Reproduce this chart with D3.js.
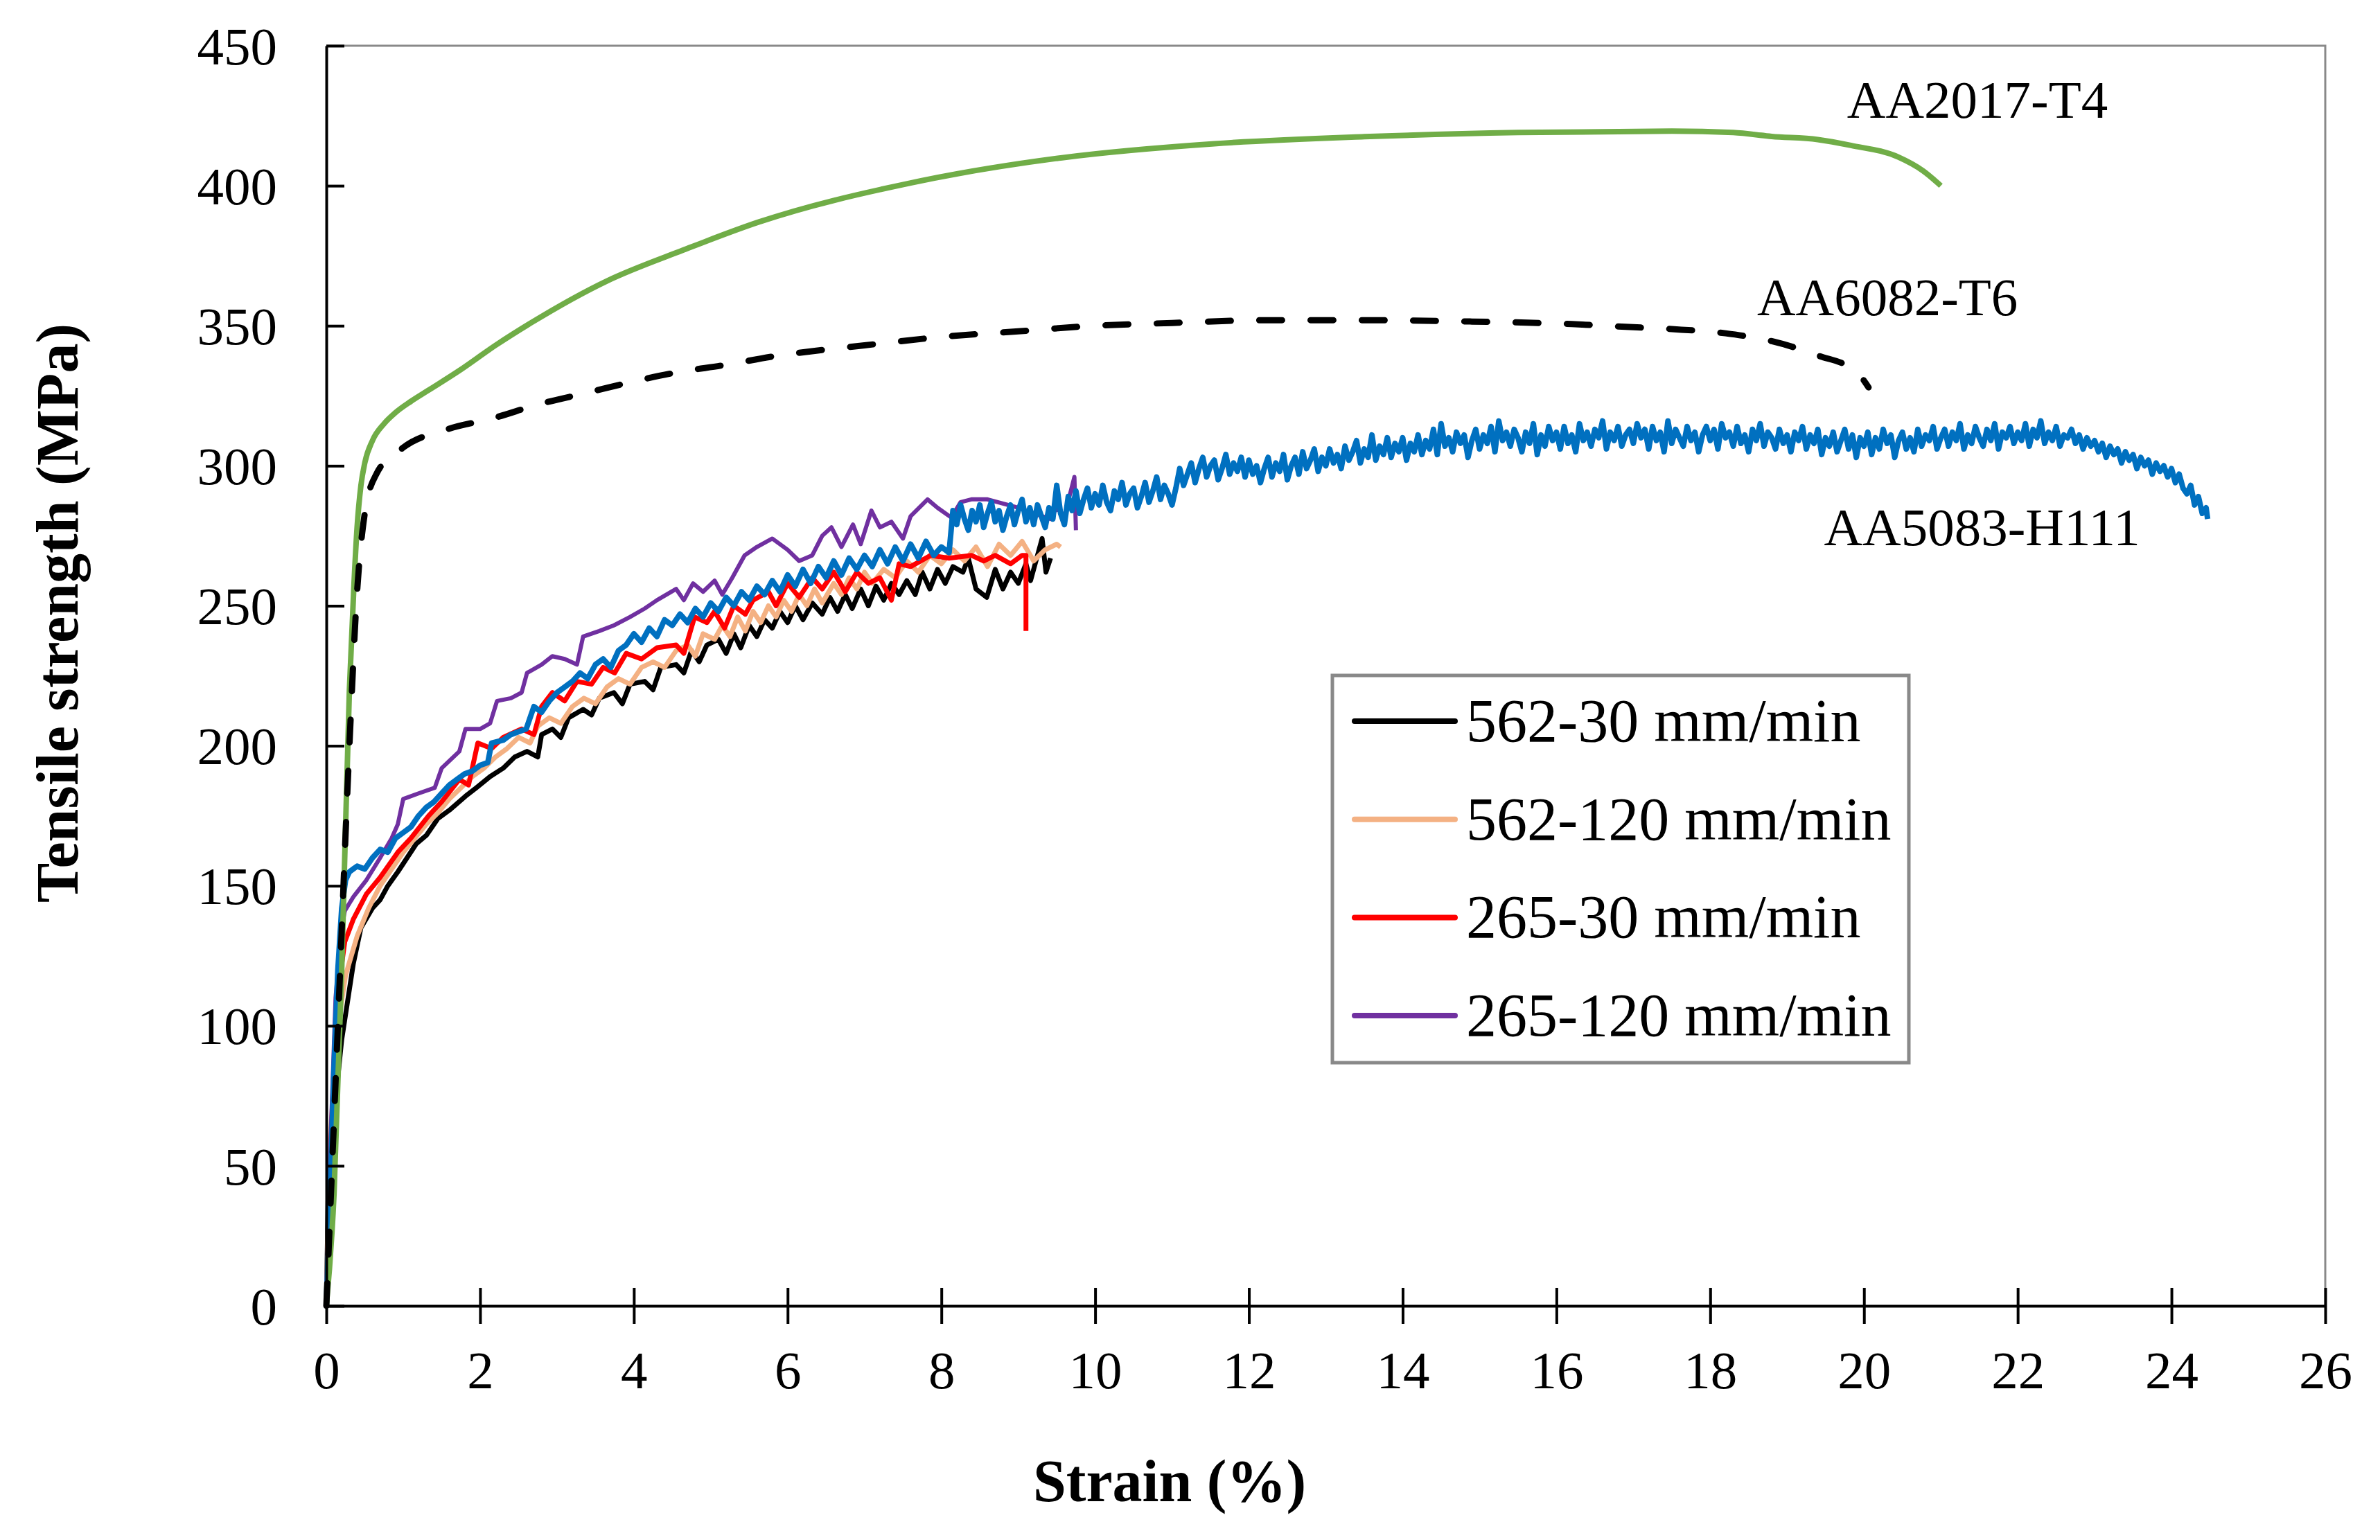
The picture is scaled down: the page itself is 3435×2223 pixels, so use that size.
<!DOCTYPE html>
<html>
<head>
<meta charset="utf-8">
<script src="https://cdn.jsdelivr.net/npm/d3@7"></script>
<style>
  html, body { margin: 0; padding: 0; background: #fff; }
  svg { display: block; font-family: "Liberation Serif", "Times New Roman", serif; }
</style>
</head>
<body>
<svg id="chart" width="3435" height="2223"></svg>
<script>
// ---------------- DATA ----------------
const xTicks = [0, 2, 4, 6, 8, 10, 12, 14, 16, 18, 20, 22, 24, 26];
const yTicks = [0, 50, 100, 150, 200, 250, 300, 350, 400, 450];

const legendNames = ["562-30 mm/min", "562-120 mm/min", "265-30 mm/min", "265-120 mm/min"];
const materialNames = ["AA2017-T4", "AA6082-T6", "AA5083-H111"];

// [strain %, stress MPa]
const s562_30 = [[0,0],[0.03,50],[0.2,95],[0.35,122],[0.45,135],[0.6,142],[0.7,145],[0.8,150],[0.93,155],[1.05,160],[1.17,165],[1.3,168],[1.45,174],[1.6,177],[1.81,182],[1.95,185],[2.13,189],[2.3,192],[2.45,196],[2.61,198],[2.75,196],[2.8,204],[2.94,206],[3.05,203],[3.15,210],[3.34,213],[3.45,211],[3.55,217],[3.74,219],[3.85,215],[3.95,222],[4.14,223],[4.25,220],[4.35,228],[4.55,229],[4.65,226],[4.75,234],[4.85,230],[4.95,236],[5.1,238],[5.2,233],[5.3,240],[5.39,235],[5.5,243],[5.6,239],[5.7,245],[5.8,242],[5.9,248],[6.0,244],[6.1,250],[6.2,245],[6.32,251],[6.45,247],[6.55,253],[6.65,248],[6.75,254],[6.84,249],[6.95,256],[7.05,250],[7.15,257],[7.25,252],[7.35,258],[7.45,254],[7.55,259],[7.66,254],[7.75,262],[7.85,256],[7.95,263],[8.05,258],[8.15,264],[8.28,262],[8.35,267],[8.45,256],[8.59,253],[8.7,263],[8.8,256],[8.9,262],[9.0,258],[9.1,265],[9.16,259],[9.25,268],[9.31,274],[9.36,262],[9.42,267]];

const s562_120 = [[0,0],[0.05,60],[0.15,100],[0.25,118],[0.4,132],[0.55,142],[0.7,150],[0.85,156],[1.0,162],[1.15,167],[1.3,172],[1.45,176],[1.6,181],[1.75,185],[1.9,189],[2.05,192],[2.2,196],[2.35,199],[2.5,203],[2.65,201],[2.75,207],[2.9,210],[3.05,208],[3.2,214],[3.35,217],[3.5,215],[3.65,221],[3.8,224],[3.95,222],[4.1,228],[4.25,230],[4.4,228],[4.55,234],[4.7,236],[4.8,232],[4.9,240],[5.05,238],[5.15,243],[5.25,239],[5.35,246],[5.45,241],[5.55,248],[5.65,244],[5.75,250],[5.85,246],[5.95,252],[6.05,248],[6.15,254],[6.25,250],[6.35,256],[6.45,251],[6.6,258],[6.7,254],[6.8,260],[6.9,256],[7.0,262],[7.1,258],[7.25,263],[7.4,260],[7.55,266],[7.7,262],[7.85,268],[8.0,265],[8.15,270],[8.3,266],[8.45,271],[8.6,264],[8.75,272],[8.9,268],[9.05,273],[9.2,266],[9.35,270],[9.5,272],[9.55,271]];

const s265_30 = [[0,0],[0.05,50],[0.12,100],[0.2,122],[0.24,130],[0.35,138],[0.52,147],[0.7,153],[0.93,162],[1.1,167],[1.33,175],[1.5,180],[1.73,188],[1.85,186],[1.97,201],[2.15,199],[2.3,203],[2.54,206],[2.7,204],[2.8,214],[2.94,219],[3.1,216],[3.26,223],[3.45,222],[3.6,228],[3.75,226],[3.9,233],[4.1,231],[4.3,235],[4.55,236],[4.65,233],[4.79,246],[4.95,244],[5.05,248],[5.18,242],[5.3,250],[5.45,247],[5.55,252],[5.75,255],[5.85,250],[6.0,258],[6.15,253],[6.32,260],[6.45,256],[6.6,262],[6.75,255],[6.9,262],[7.05,258],[7.2,260],[7.35,252],[7.45,265],[7.6,264],[7.86,268],[8.1,267],[8.39,268],[8.55,266],[8.7,268],[8.9,265],[9.05,268],[9.1,268],[9.1,241]];

const s265_120 = [[0,0],[0.05,55],[0.12,110],[0.2,135],[0.24,141],[0.35,146],[0.52,152],[0.7,160],[0.85,167],[0.93,172],[1.0,181],[1.2,183],[1.41,185],[1.5,192],[1.73,198],[1.81,206],[2.0,206],[2.13,208],[2.22,216],[2.4,217],[2.54,219],[2.61,226],[2.8,229],[2.94,232],[3.1,231],[3.26,229],[3.34,239],[3.55,241],[3.74,243],[3.95,246],[4.14,249],[4.3,252],[4.55,256],[4.65,252],[4.77,258],[4.9,255],[5.05,259],[5.15,254],[5.28,260],[5.44,268],[5.6,271],[5.8,274],[6.0,270],[6.15,266],[6.32,268],[6.45,275],[6.57,278],[6.7,271],[6.85,279],[6.95,272],[7.09,284],[7.2,278],[7.35,280],[7.5,274],[7.6,282],[7.82,288],[7.95,285],[8.13,281.5],[8.25,287],[8.39,288],[8.6,288],[8.8,286.5],[9.0,285],[9.2,283],[9.42,281],[9.5,285],[9.6,282],[9.73,296],[9.75,277]];

const aa5083 = [[0,0],[0.05,40],[0.1,85],[0.15,120],[0.2,142],[0.25,152],[0.3,155],[0.4,157],[0.5,156],[0.6,160],[0.7,163],[0.8,162],[0.9,167],[1.0,169],[1.1,171],[1.2,175],[1.3,178],[1.4,180],[1.5,183],[1.6,186],[1.7,188],[1.8,190],[1.9,191],[2.0,193],[2.1,194],[2.15,201],[2.3,202],[2.4,204],[2.5,205],[2.6,206],[2.7,214],[2.8,212],[2.9,216],[3.0,219],[3.1,221],[3.2,223],[3.3,226],[3.4,224],[3.5,229],[3.6,231],[3.7,228],[3.8,234],[3.9,236],[4.0,240],[4.1,237],[4.2,242],[4.3,239],[4.4,245],[4.5,243],[4.6,247],[4.7,244],[4.8,249],[4.9,246],[5.0,251],[5.1,248],[5.2,253],[5.3,250],[5.4,255],[5.5,252],[5.6,257],[5.7,254],[5.8,259],[5.9,255],[6.0,261],[6.1,257],[6.2,263],[6.3,258],[6.4,264],[6.5,260],[6.6,266],[6.7,261],[6.8,267],[6.9,263],[7.0,268],[7.1,264],[7.2,270],[7.3,265],[7.4,271],[7.5,266],[7.6,272],[7.7,267],[7.8,273],[7.9,268],[8.0,271],
[8.10,269],[8.15,284],[8.20,279],[8.25,286],[8.30,281],[8.35,277],[8.40,284],[8.45,280],[8.50,286],[8.55,278],[8.60,283],[8.65,287],[8.70,280],[8.75,284],[8.80,277],[8.85,282],[8.90,286],[8.95,279],
[9.00,284],[9.05,288],[9.10,280],[9.15,285],[9.20,279],[9.25,286],[9.30,282],[9.35,278],[9.40,285],[9.45,281],[9.50,293],[9.55,283],[9.60,279],[9.65,289],[9.70,284],[9.75,291],[9.80,283],[9.85,288],[9.90,292],[9.95,285],
[10.00,290],[10.05,286],[10.10,293],[10.15,287],[10.20,284],[10.25,291],[10.30,288],[10.35,294],[10.40,286],[10.45,290],[10.50,292],[10.55,285],[10.60,289],[10.65,294],[10.70,287],[10.75,291],[10.80,296],[10.85,288],[10.90,293],[10.95,290],
[11.00,286],[11.05,292],[11.10,299],[11.15,293],[11.20,297],[11.25,301],[11.30,294],[11.35,299],[11.40,303],[11.45,296],[11.50,300],[11.55,302],[11.60,295],[11.65,299],[11.70,304],[11.75,297],[11.80,301],[11.85,298],[11.90,303],[11.95,296],
[12.00,302],[12.05,297],[12.10,300],[12.15,294],[12.20,299],[12.25,303],[12.30,296],[12.35,301],[12.40,298],[12.45,304],[12.50,295],[12.55,300],[12.60,303],[12.65,297],[12.70,305],[12.75,299],[12.80,302],[12.85,306],[12.90,298],[12.95,303],
[13.00,300],[13.05,306],[13.10,301],[13.15,304],[13.20,299],[13.25,307],[13.30,302],[13.35,305],[13.40,309],[13.45,301],[13.50,306],[13.55,303],[13.60,311],[13.65,302],[13.70,307],[13.75,304],[13.80,310],[13.85,303],[13.90,308],[13.95,305],
[14.00,310],[14.05,302],[14.10,308],[14.15,305],[14.20,311],[14.25,304],[14.30,309],[14.35,306],[14.40,313],[14.45,304],[14.50,315],[14.55,307],[14.60,310],[14.65,305],[14.70,312],[14.75,308],[14.80,311],[14.85,303],[14.90,309],[14.95,313],
[15.00,306],[15.05,311],[15.10,308],[15.15,314],[15.20,305],[15.25,316],[15.30,309],[15.35,312],[15.40,307],[15.45,313],[15.50,310],[15.55,305],[15.60,312],[15.65,308],[15.70,315],[15.75,304],[15.80,311],[15.85,307],[15.90,314],[15.95,309],
[16.00,312],[16.05,306],[16.10,314],[16.15,308],[16.20,311],[16.25,305],[16.30,315],[16.35,309],[16.40,312],[16.45,307],[16.50,313],[16.55,310],[16.60,316],[16.65,306],[16.70,312],[16.75,309],[16.80,314],[16.85,307],[16.90,311],[16.95,313],
[17.00,308],[17.05,315],[17.10,310],[17.15,313],[17.20,306],[17.25,314],[17.30,309],[17.35,312],[17.40,305],[17.45,316],[17.50,308],[17.55,313],[17.60,310],[17.65,307],[17.70,314],[17.75,309],[17.80,312],[17.85,305],[17.90,311],[17.95,314],
[18.00,309],[18.05,313],[18.10,306],[18.15,315],[18.20,310],[18.25,312],[18.30,307],[18.35,314],[18.40,308],[18.45,311],[18.50,305],[18.55,313],[18.60,309],[18.65,315],[18.70,307],[18.75,312],[18.80,310],[18.85,306],[18.90,313],[18.95,308],
[19.00,311],[19.05,305],[19.10,312],[19.15,309],[19.20,314],[19.25,306],[19.30,311],[19.35,308],[19.40,313],[19.45,304],[19.50,310],[19.55,307],[19.60,312],[19.65,305],[19.70,309],[19.75,313],[19.80,306],[19.85,311],[19.90,303],[19.95,310],
[20.00,307],[20.05,312],[20.10,304],[20.15,310],[20.20,306],[20.25,313],[20.30,308],[20.35,311],[20.40,303],[20.45,309],[20.50,312],[20.55,306],[20.60,310],[20.65,305],[20.70,313],[20.75,307],[20.80,311],[20.85,309],[20.90,314],[20.95,306],
[21.00,310],[21.05,313],[21.10,307],[21.15,312],[21.20,309],[21.25,315],[21.30,306],[21.35,311],[21.40,308],[21.45,314],[21.50,310],[21.55,307],[21.60,313],[21.65,309],[21.70,315],[21.75,306],[21.80,312],[21.85,310],[21.90,314],[21.95,308],
[22.00,312],[22.05,309],[22.10,315],[22.15,307],[22.20,313],[22.25,310],[22.30,316],[22.35,308],[22.40,312],[22.45,309],[22.50,314],[22.55,307],[22.60,311],[22.65,310],[22.70,313],[22.75,308],[22.80,311],[22.85,306],[22.90,310],[22.95,307],
[23.00,309],[23.05,305],[23.10,308],[23.15,303],[23.20,307],[23.25,304],[23.30,306],[23.35,301],[23.40,305],[23.45,302],[23.50,304],[23.55,299],[23.60,303],[23.65,300],[23.70,302],[23.75,297],[23.80,301],[23.85,298],[23.90,300],[23.95,296],
[24.00,299],[24.05,294],[24.10,297],[24.15,292],[24.20,290],[24.25,293],[24.30,286],[24.35,289],[24.40,283],[24.45,285],[24.47,281]];

const aa2017 = [[0,0],[0.1,40],[0.2,120],[0.3,220],[0.36,258],[0.4,278],[0.45,293],[0.5,301],[0.6,309],[0.75,315],[0.9,319],[1.1,323],[1.33,327],[1.73,334],[2.2,343],[2.66,351],[3.65,366],[4.64,377],[5.62,387],[7.6,401],[9.57,410],[11.55,415],[13.5,417.5],[15.5,419],[17.5,419.5],[18.3,419],[18.8,417.6],[19.4,416.5],[19.83,414.4],[20.45,410.2],[20.77,405.3],[21.0,400]];

const aa6082 = [[0,0],[0.15,100],[0.3,200],[0.4,255],[0.5,283],[0.65,297],[1.0,306.5],[1.57,313],[2.17,317],[2.77,322],[3.38,326],[3.98,330],[4.59,333.5],[5.19,336],[5.8,339],[7,343],[8,346],[9,348],[10,350],[11,351],[12.25,352],[13.5,352],[14.9,351.5],[16.2,350.6],[16.9,349.6],[17.5,348.8],[18.2,347.3],[18.8,344.5],[19.4,339.4],[19.9,333.6],[20.06,328]];

// ---------------- CHART ----------------
const svg = d3.select("#chart");
const x = d3.scaleLinear().domain([0, 26]).range([471, 3356]);
const y = d3.scaleLinear().domain([0, 450]).range([1885, 66]);
const line = d3.line().x(d => x(d[0])).y(d => y(d[1]));
const smooth = d3.line().x(d => x(d[0])).y(d => y(d[1])).curve(d3.curveMonotoneX);

// plot frame top/right (gray)
svg.append("path")
  .attr("d", `M${x(0)},${y(450)}H${x(26)}V${y(0)}`)
  .attr("fill", "none").attr("stroke", "#898989").attr("stroke-width", 3);

const series = [
  {data: s562_30,  color: "#000000", w: 7},
  {data: s562_120, color: "#F4B183", w: 7},
  {data: s265_30,  color: "#FF0000", w: 7},
  {data: s265_120, color: "#7030A0", w: 6},
  {data: aa5083,   color: "#0070C0", w: 8},
];
series.forEach(s => {
  svg.append("path").datum(s.data)
    .attr("d", line)
    .attr("fill", "none").attr("stroke", s.color)
    .attr("stroke-width", s.w).attr("stroke-linejoin", "round");
});
// smooth curves
svg.append("path").datum(aa2017)
  .attr("d", smooth)
  .attr("fill", "none").attr("stroke", "#70AD47").attr("stroke-width", 8);
svg.append("path").datum(aa6082)
  .attr("d", smooth)
  .attr("fill", "none").attr("stroke", "#000").attr("stroke-width", 9)
  .attr("stroke-dasharray", "33 41").attr("stroke-linecap", "round");

// axes
const xAxisOut = d3.axisBottom(x).tickValues(xTicks).tickSize(26).tickSizeOuter(0).tickPadding(0);
const gx = svg.append("g").attr("transform", `translate(0,${y(0)})`).call(xAxisOut);
gx.select(".domain").attr("stroke", "#000").attr("stroke-width", 4);
gx.selectAll(".tick line").attr("stroke", "#000").attr("stroke-width", 4).attr("y1", -26).attr("y2", 26);
gx.selectAll(".tick text").attr("y", 119).attr("dy", null)
  .attr("font-size", 77).attr("font-family", "Liberation Serif, Times New Roman, serif").attr("fill", "#000");

const yAxis = d3.axisLeft(y).tickValues(yTicks).tickSize(-26).tickSizeOuter(0).tickPadding(71);
const gy = svg.append("g").attr("transform", `translate(${x(0)},0)`).call(yAxis);
gy.select(".domain").attr("stroke", "#000").attr("stroke-width", 4);
gy.selectAll(".tick line").attr("stroke", "#000").attr("stroke-width", 4);
gy.selectAll(".tick text").attr("dy", "0.34em")
  .attr("font-size", 77).attr("font-family", "Liberation Serif, Times New Roman, serif").attr("fill", "#000");

// axis titles
svg.append("text").attr("x", 1688).attr("y", 2167).attr("text-anchor", "middle")
  .attr("font-size", 86).attr("font-weight", "bold").text("Strain (%)");
svg.append("text").attr("transform", "translate(112,885) rotate(-90)").attr("text-anchor", "middle")
  .attr("font-size", 86).attr("font-weight", "bold").text("Tensile strength (MPa)");

// material labels (positioned in data units)
const matPos = [[19.78, 424.3], [18.61, 353.8], [19.48, 271.6]];
materialNames.forEach((n, i) => {
  svg.append("text").attr("x", x(matPos[i][0])).attr("y", y(matPos[i][1]))
    .attr("font-size", 77).text(n);
});

// legend
const lg = svg.append("g");
lg.append("rect").attr("x", 1923).attr("y", 975).attr("width", 832).attr("height", 559)
  .attr("fill", "#fff").attr("stroke", "#898989").attr("stroke-width", 5);
const legendColors = ["#000000", "#F4B183", "#FF0000", "#7030A0"];
legendNames.forEach((n, i) => {
  const ly = 1041 + i * 141.7;
  lg.append("line").attr("x1", 1955).attr("x2", 2100).attr("y1", ly).attr("y2", ly)
    .attr("stroke", legendColors[i]).attr("stroke-width", 8).attr("stroke-linecap", "round");
  lg.append("text").attr("x", 2116).attr("y", ly + 29).attr("font-size", 88).text(n);
});
</script>
</body>
</html>
